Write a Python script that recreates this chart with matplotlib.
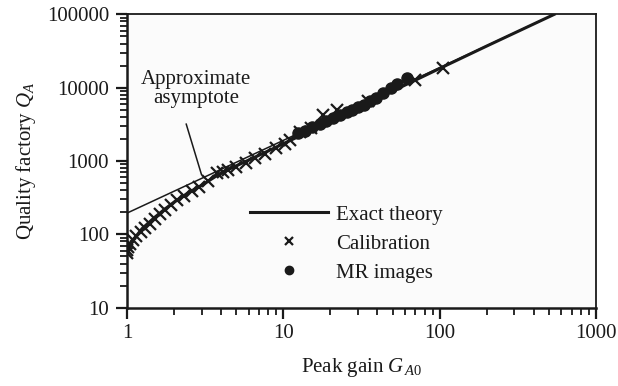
import matplotlib
matplotlib.use("Agg")
import matplotlib.pyplot as plt
from matplotlib.ticker import LogLocator, NullFormatter, FixedLocator, FixedFormatter

plt.rcParams['font.family'] = ['Liberation Serif', 'DejaVu Serif']
plt.rcParams['mathtext.fontset'] = 'custom'
plt.rcParams['mathtext.it'] = 'Liberation Serif:italic'
plt.rcParams['mathtext.rm'] = 'Liberation Serif'

# Exact theory curve
theory_g = [1.0, 1.1, 1.25, 1.5, 1.75, 2.0, 2.5, 3.0, 4.0, 5.0, 7.0, 10.0, 20.0, 50.0, 100.0, 200.0, 540.0]
theory_q = [57, 85, 120, 170, 222, 275, 375, 465, 690, 860, 1200, 1720, 3500, 9000, 18300, 37000, 100000]

# Approximate asymptote
asym_g = [1.0, 540.0]
asym_q = [195, 100000]

# Calibration points (crosses)
calib_g = [1.0, 1.0, 1.02, 1.05, 1.1, 1.15, 1.22, 1.3, 1.4, 1.5, 1.62, 1.75, 1.9, 2.1, 2.3, 2.6,
           2.9, 3.3, 3.75, 4.1, 4.45, 5.0, 5.8, 6.6, 7.6, 9.0, 10.2, 11.0, 12.8, 15.0, 18.0, 22.0,
           35.0, 70.0, 105.0]
calib_q = [55, 62, 68, 75, 85, 95, 108, 122, 140, 160, 190, 215, 250, 295, 335, 390,
           445, 540, 680, 715, 760, 840, 940, 1090, 1230, 1500, 1720, 1950, 2500, 2800, 4200, 4900,
           6500, 12800, 18600]

# MR images points (dots)
mr_g = [12.4, 13.8, 15.3, 17.2, 18.7, 20.7, 22.9, 25.4, 27.4, 29.9, 32.7, 35.8, 39.1, 43.3, 48.8, 53.3, 61.8]
mr_q = [2420, 2580, 2920, 3210, 3520, 3870, 4260, 4680, 4980, 5470, 5820, 6600, 7260, 8490, 9940, 11270, 13610]

x_ticks = [1, 10, 100, 1000]
x_ticklabels = ['1', '10', '100', '1000']
y_ticks = [10, 100, 1000, 10000, 100000]
y_ticklabels = ['10', '100', '1000', '10000', '100000']

FS = 15
INK = '#1a1a1a'

fig = plt.figure(figsize=(6.18, 3.86), dpi=100)
ax = fig.add_axes([0.2055, 0.2028, 0.759, 0.760])
ax.set_facecolor('#fbfbfb')

ax.plot(asym_g, asym_q, color=INK, lw=1.1)
ax.plot(theory_g, theory_q, color=INK, lw=2.2, label='Exact theory')
ax.plot(calib_g, calib_q, linestyle='none', marker='x', color=INK, ms=8, mew=1.6, label='Calibration')
ax.plot(mr_g, mr_q, linestyle='none', marker='o', color=INK, ms=8, label='MR images')

ax.set_xscale('log')
ax.set_yscale('log')
ax.set_xlim(1, 1000)
ax.set_ylim(10, 100000)

ax.xaxis.set_major_locator(FixedLocator(x_ticks))
ax.xaxis.set_major_formatter(FixedFormatter(x_ticklabels))
ax.yaxis.set_major_locator(FixedLocator(y_ticks))
ax.yaxis.set_major_formatter(FixedFormatter(y_ticklabels))
ax.xaxis.set_minor_locator(LogLocator(base=10, subs=range(2, 10), numticks=20))
ax.yaxis.set_minor_locator(LogLocator(base=10, subs=range(2, 10), numticks=20))
ax.xaxis.set_minor_formatter(NullFormatter())
ax.yaxis.set_minor_formatter(NullFormatter())

ax.tick_params(which='major', direction='out', length=8, width=1.6, labelsize=FS, colors=INK, pad=5)
ax.tick_params(which='minor', direction='out', length=5, width=1.3, colors=INK)
ax.tick_params(top=False, right=False, which='both')
ax.tick_params(axis='x', which='major', pad=4)
for side in ['left', 'bottom']:
    ax.spines[side].set_linewidth(1.8)
for side in ['top', 'right']:
    ax.spines[side].set_linewidth(1.3)
for s in ax.spines.values():
    s.set_color(INK)

ax.set_xlabel('Peak gain $G_{\\,A0}$', fontsize=FS, color=INK, labelpad=9)
ax.set_ylabel('Quality factory $Q_A$', fontsize=FS, color=INK, labelpad=6)

ax.text(0.148, 0.81, 'Approximate\nasymptote', transform=ax.transAxes, fontsize=FS,
        ha='center', va='top', color=INK, linespacing=1.0)
ax.annotate('', xy=(3.0, 646), xytext=(2.39, 3210),
            arrowprops=dict(arrowstyle='-', color=INK, lw=1.1, shrinkA=0, shrinkB=0))

leg = ax.legend(loc='upper left', bbox_to_anchor=((250 - 127) / 469.0, 0.35), frameon=False, fontsize=FS,
                handlelength=3.75, handletextpad=0.4, labelspacing=0.45, borderpad=0, borderaxespad=0)
for t in leg.get_texts():
    t.set_color(INK)
hs = leg.legend_handles
hs[1].set_markersize(6)
hs[1].set_markeredgewidth(1.6)
hs[2].set_markersize(6)

fig.savefig('out.png', dpi=100)
